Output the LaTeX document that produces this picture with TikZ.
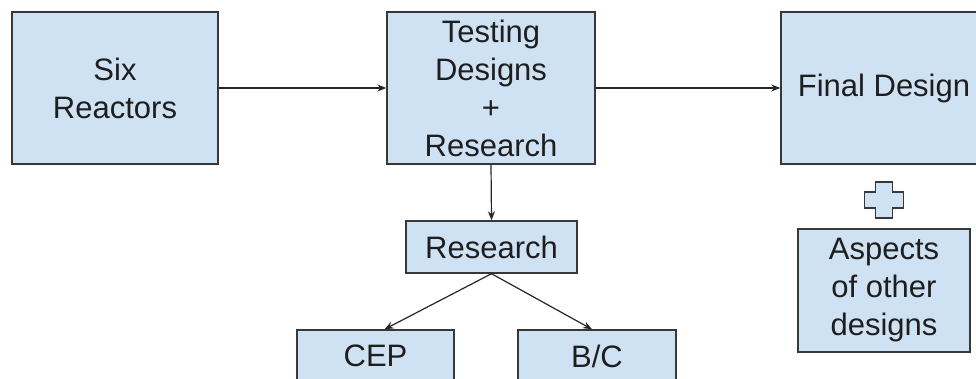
\documentclass[tikz,border=0pt]{standalone}
\usepackage{fontspec}
\setmainfont{Liberation Sans}
\usetikzlibrary{arrows.meta}
\definecolor{boxfill}{HTML}{CFE2F3}
\definecolor{boxline}{HTML}{383838}
\definecolor{inktext}{HTML}{1E1E1E}
\tikzset{
  flowbox/.style={draw=boxline, fill=boxfill, line width=1.4pt, inner sep=0pt,
    align=center, text=inktext, font=\fontsize{31}{38}\selectfont},
  flowarrow/.style={-{Stealth[length=9pt,width=7pt]}, line width=1.2pt, draw=black!85}
}
\begin{document}
\begin{tikzpicture}[x=1pt,y=-1pt]
  \useasboundingbox (0,0) rectangle (976,379);
  \clip (0,0) rectangle (976,379);
  \fill[white] (0,0) rectangle (976,379);

  % top row
  \node[flowbox, minimum width=206pt, minimum height=152pt] (six) at (115,88) {Six\\Reactors};
  \node[flowbox, minimum width=208pt, minimum height=152pt] (test) at (491,88) {Testing\\Designs\\+\\Research};
  \node[flowbox, minimum width=206pt, minimum height=152pt] (final) at (884,88) {Final Design};

  % research branch
  \node[flowbox, minimum width=171pt, minimum height=52pt] (res) at (491.5,247) {Research};
  \node[flowbox, minimum width=157pt, minimum height=52pt] (cep) at (375.5,356) {CEP};
  \node[flowbox, minimum width=158pt, minimum height=52pt] (bc) at (597,356) {B/C};

  % extra aspects
  \node[flowbox, minimum width=172pt, minimum height=123pt] (asp) at (884,290.5) {Aspects\\of other\\designs};

  % plus sign between final design and aspects
  \begin{scope}[shift={(884,200)}]
    \draw[draw=boxline, fill=boxfill, line width=1.4pt]
      (-8.5,-18) -- (8.5,-18) -- (8.5,-8) -- (19.5,-8) -- (19.5,8) -- (8.5,8)
      -- (8.5,18) -- (-8.5,18) -- (-8.5,8) -- (-19.5,8) -- (-19.5,-8) -- (-8.5,-8) -- cycle;
  \end{scope}

  % connectors
  \draw[flowarrow] (six.east) -- (test.west);
  \draw[flowarrow] (test.east) -- (final.west);
  \draw[flowarrow] (test.south) -- (res.north);
  \draw[flowarrow] (res.south) -- ([xshift=9pt]cep.north);
  \draw[flowarrow] (res.south) -- ([xshift=-5pt]bc.north);
\end{tikzpicture}
\end{document}
